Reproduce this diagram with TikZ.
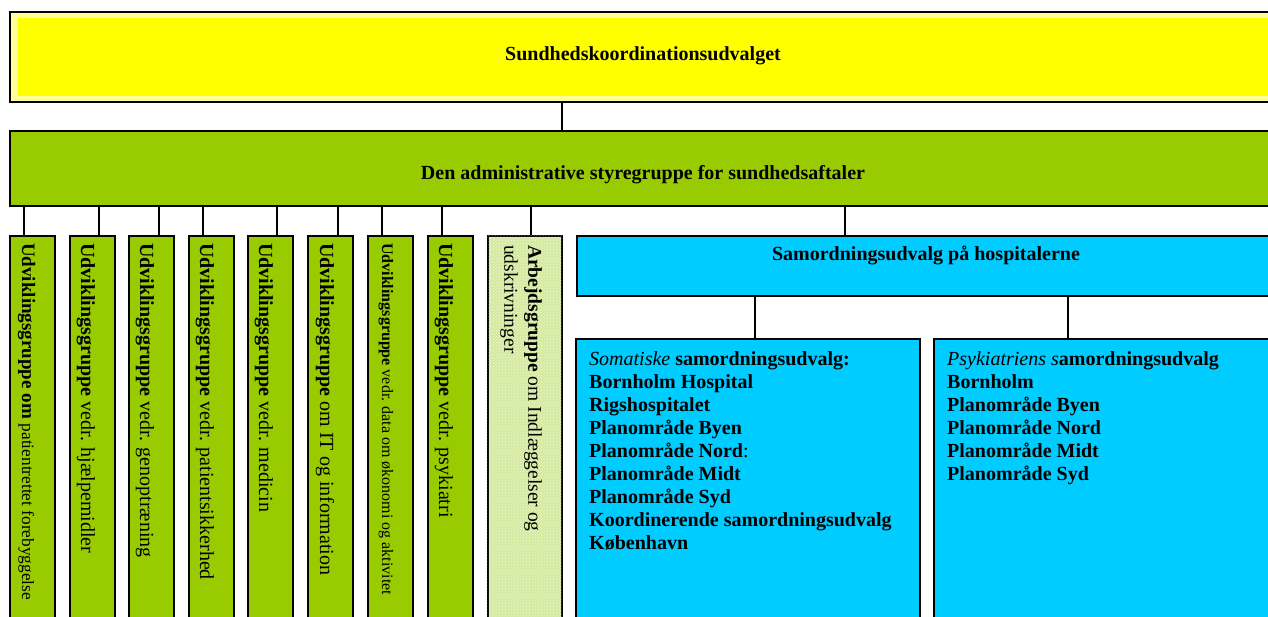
\documentclass[tikz,border=0pt]{standalone}
\usepackage{fontspec}
\setmainfont{Liberation Serif}
\usetikzlibrary{patterns,calc}
\definecolor{ylw}{RGB}{255,255,0}
\definecolor{paleylw}{RGB}{255,255,153}
\definecolor{grn}{RGB}{153,204,0}
\definecolor{lgrn}{RGB}{212,234,158}
\definecolor{blu}{RGB}{0,204,255}
\begin{document}
\begin{tikzpicture}[x=1pt,y=-1pt,
  boxstyle/.style={draw=black, line width=1.6pt, rectangle, inner sep=0pt, anchor=north west},
  gbox/.style={boxstyle, fill=grn, minimum width=45pt, minimum height=420pt},
  vtext/.style={rotate=-90, anchor=base west, inner sep=0pt, font=\fontsize{20}{23}\selectfont},
  conn/.style={draw=black, line width=1.6pt},
  ttl/.style={font=\fontsize{20}{23}\selectfont\bfseries, inner sep=0pt, anchor=base},
  listtxt/.style={font=\fontsize{20}{23}\selectfont\bfseries, inner sep=0pt, anchor=north west, align=left},
]
\useasboundingbox (0,0) rectangle (1268,617);
\fill[white] (0,0) rectangle (1268,617);
\clip (0,0) rectangle (1268,617);

% top box
\node[boxstyle, fill=paleylw, minimum width=1280pt, minimum height=90pt] (suk) at (9,11) {};
\fill[ylw] ($(suk.north west)+(9,7)$) rectangle ($(suk.south east)+(-9,-7)$);
\node[ttl] (suktxt) at (643,61) {Sundhedskoordinationsudvalget};

% administrative group
\node[boxstyle, fill=grn, minimum width=1280pt, minimum height=75pt] (adm) at (9,130) {};
\node[ttl] (admtxt) at (643,180) {Den administrative styregruppe for sundhedsaftaler};
\draw[conn] (suk.south west) ++(553,0) coordinate (c0) -- (c0 |- adm.north);

% vertical groups
\node[gbox] (b1) at (9,235) {};
\node[gbox] (b2) at (69,235) {};
\node[gbox] (b3) at (128,235) {};
\node[gbox] (b4) at (188,235) {};
\node[gbox] (b5) at (247,235) {};
\node[gbox] (b6) at (307,235) {};
\node[gbox] (b7) at (367,235) {};
\node[gbox] (b8) at (427,235) {};
\node[boxstyle, fill=lgrn, minimum width=74pt, minimum height=420pt,
  postaction={pattern=crosshatch dots, pattern color=white!70!lgrn}] (b9) at (487,235) {};

\node[vtext, font=\fontsize{19}{23}\selectfont] (t1) at ($(b1.north west)+(13,8)$) {\textbf{Udviklingsgruppe om} {\fontsize{17.3}{22}\selectfont patientrettet forebyggelse}};
\node[vtext] (t2) at ($(b2.north west)+(12,8)$) {\textbf{Udviklingsgruppe} vedr. hjælpemidler};
\node[vtext] (t3) at ($(b3.north west)+(12,8)$) {\textbf{Udviklingsgruppe} vedr. genoptræning};
\node[vtext] (t4) at ($(b4.north west)+(12,8)$) {\textbf{Udviklingsgruppe} vedr. patientsikkerhed};
\node[vtext] (t5) at ($(b5.north west)+(12,8)$) {\textbf{Udviklingsgruppe} vedr. medicin};
\node[vtext] (t6) at ($(b6.north west)+(13,8)$) {\textbf{Udviklingsgruppe} om IT og information};
\node[vtext, font=\fontsize{16}{19}\selectfont] (t7) at ($(b7.north west)+(15,8)$) {\textbf{Udviklingsgruppe} vedr. data om økonomi og aktivitet};
\node[vtext] (t8) at ($(b8.north west)+(12,8)$) {\textbf{Udviklingsgruppe} vedr. psykiatri};
\node[rotate=-90, anchor=north west, inner sep=0pt, align=left, font=\fontsize{19.5}{24}\selectfont] (t9)
  at ($(b9.north west)+(55,10)$) {\textbf{Arbejdsgruppe} om Indlæggelser og\\udskrivninger};

\draw[conn] (b1.north west) ++(15,0) coordinate (d1) -- (d1 |- adm.south);
\draw[conn] (b2.north west) ++(30,0) coordinate (d2) -- (d2 |- adm.south);
\draw[conn] (b3.north west) ++(31,0) coordinate (d3) -- (d3 |- adm.south);
\draw[conn] (b4.north west) ++(15,0) coordinate (d4) -- (d4 |- adm.south);
\draw[conn] (b5.north west) ++(30,0) coordinate (d5) -- (d5 |- adm.south);
\draw[conn] (b6.north west) ++(31,0) coordinate (d6) -- (d6 |- adm.south);
\draw[conn] (b7.north west) ++(15,0) coordinate (d7) -- (d7 |- adm.south);
\draw[conn] (b8.north west) ++(15,0) coordinate (d8) -- (d8 |- adm.south);
\draw[conn] (b9.north west) ++(44,0) coordinate (d9) -- (d9 |- adm.south);

% hospital committees
\node[boxstyle, fill=blu, minimum width=720pt, minimum height=60pt] (sam) at (576,235) {};
\node[ttl] (samtxt) at (926,261) {Samordningsudvalg på hospitalerne};
\draw[conn] (sam.north west) ++(269,0) coordinate (d10) -- (d10 |- adm.south);

\node[boxstyle, fill=blu, minimum width=344pt, minimum height=300pt] (soma) at (575,338) {};
\node[boxstyle, fill=blu, minimum width=360pt, minimum height=300pt] (psyk) at (933,338) {};
\draw[conn] (soma.north west) ++(180,0) coordinate (d11) -- (d11 |- sam.south);
\draw[conn] (psyk.north west) ++(135,0) coordinate (d12) -- (d12 |- sam.south);

\node[listtxt] (somatxt) at ($(soma.north west)+(14,13)$) {\textit{\mdseries Somatiske} samordningsudvalg:\\
Bornholm Hospital\\
Rigshospitalet\\
Planområde Byen\\
Planområde Nord{\mdseries :}\\
Planområde Midt\\
Planområde Syd\\
Koordinerende samordningsudvalg\\
København};
\node[listtxt] (psyktxt) at ($(psyk.north west)+(14,13)$) {\textit{\mdseries Psykiatriens s}amordningsudvalg\\
Bornholm\\
Planområde Byen\\
Planområde Nord\\
Planområde Midt\\
Planområde Syd};
\end{tikzpicture}
\end{document}
